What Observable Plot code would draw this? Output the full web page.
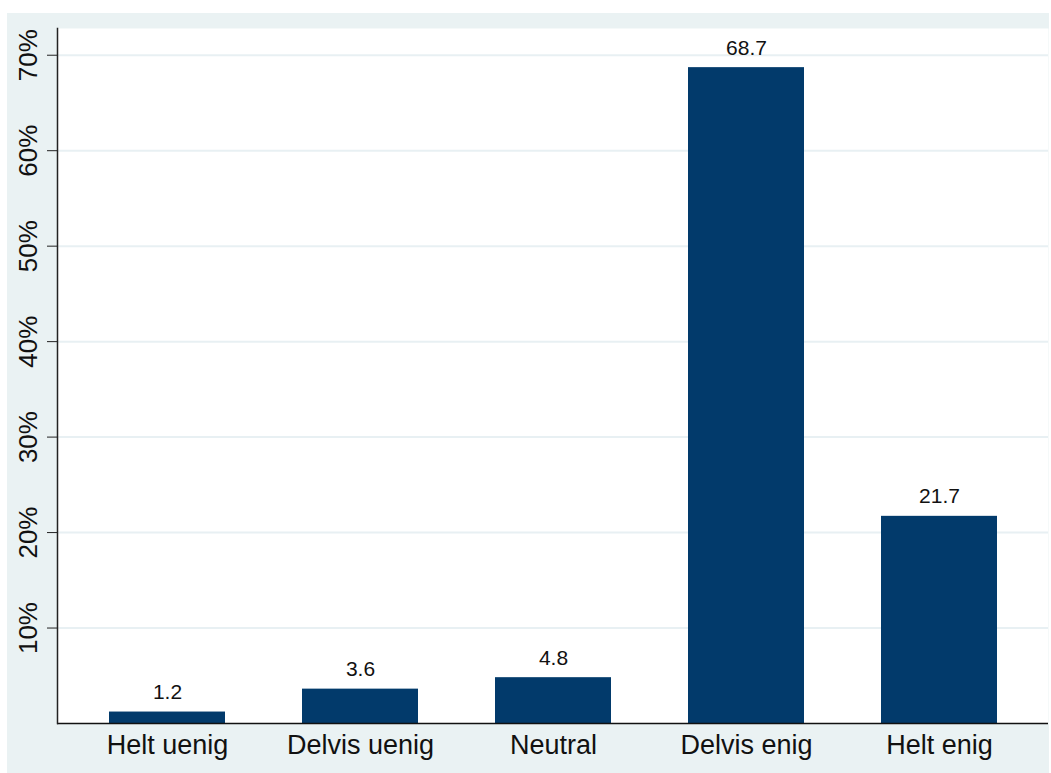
<!DOCTYPE html>
<html>
<head>
<meta charset="utf-8">
<script src="https://cdn.jsdelivr.net/npm/d3@7"></script>
<script src="https://cdn.jsdelivr.net/npm/@observablehq/plot@0.6"></script>
<style>
  html, body { margin: 0; padding: 0; background: #ffffff; }
  #chart { position: absolute; left: 7px; top: 13px; width: 1042px; height: 760px; background: #eaf2f3; }
  #chart svg { display: block; }
</style>
</head>
<body>
<div id="chart"></div>
<script>
const categories = ["Helt uenig", "Delvis uenig", "Neutral", "Delvis enig", "Helt enig"];
const values = [1.2, 3.6, 4.8, 68.7, 21.7];
const yTicks = [10, 20, 30, 40, 50, 60, 70];
const yTickLabels = ["10%", "20%", "30%", "40%", "50%", "60%", "70%"];

const data = categories.map((c, i) => ({category: c, value: values[i]}));

const chart = Plot.plot({
  width: 1042,
  height: 760,
  marginLeft: 50,
  marginTop: 15,
  marginRight: 1,
  marginBottom: 50,
  style: {background: "transparent", fontFamily: "'Liberation Sans', Arial, Helvetica, sans-serif", color: "#111"},
  x: {domain: categories, paddingInner: 0.4, paddingOuter: 0.26, label: null},
  y: {domain: [0, 72.8], label: null},
  marks: [
    Plot.frame({fill: "white", stroke: null}),
    Plot.gridY(yTicks, {stroke: "#e8f0f3", strokeOpacity: 1, strokeWidth: 2}),
    Plot.barY(data, {x: "category", y: "value", fill: "#023a6b"}),
    Plot.text(data, {x: "category", y: "value", text: d => d.value.toFixed(1), lineAnchor: "bottom", dy: -13, fontSize: 21, fill: "#111"}),
    Plot.axisX({tickSize: 0, tickPadding: 11, fontSize: 27, label: null, fill: "#111"}),
    Plot.axisY(yTicks, {tickSize: 10, tickFormat: () => "", label: null, stroke: "#222"}),
    Plot.text(yTicks, {y: d => d, text: (d, i) => yTickLabels[i], frameAnchor: "left", rotate: -90, textAnchor: "middle", lineAnchor: "bottom", dx: -21, fontSize: 26, fill: "#111"}),
    Plot.ruleY([0], {stroke: "#111", strokeWidth: 1.5}),
    Plot.frame({anchor: "left", stroke: "#222", strokeWidth: 1.5})
  ]
});
document.getElementById("chart").append(chart);
</script>
</body>
</html>
